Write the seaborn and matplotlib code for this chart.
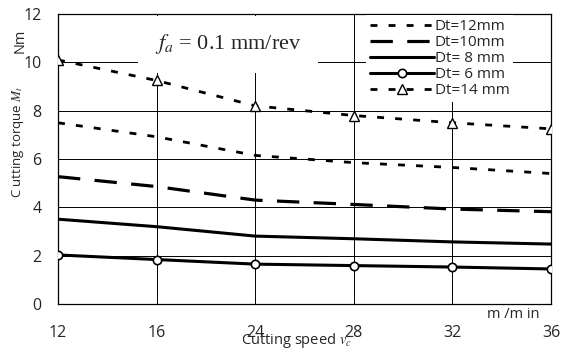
import numpy as np
import pandas as pd
import matplotlib as mpl
import matplotlib.pyplot as plt
import seaborn as sns

# cutting speed categories (m/min)
speeds = ['12', '16', '24', '28', '32', '36']

# cutting torque Mt (Nm) per drill diameter
dt12 = [7.5, 6.92, 6.15, 5.85, 5.65, 5.4]
dt10 = [5.27, 4.86, 4.3, 4.12, 3.93, 3.82]
dt8 = [3.51, 3.2, 2.81, 2.7, 2.57, 2.48]
dt6 = [2.03, 1.84, 1.65, 1.59, 1.53, 1.45]
dt14 = [10.1, 9.25, 8.2, 7.8, 7.5, 7.25]

labels = ['Dt=12mm', 'Dt=10mm', 'Dt= 8 mm', 'Dt= 6 mm', 'Dt=14 mm']

sns.set_style("white")
plt.rcParams['font.family'] = ['Open Sans', 'DejaVu Sans']
plt.rcParams['mathtext.fontset'] = 'stix'

fig, ax = plt.subplots(figsize=(5.62, 3.51), dpi=100)
fig.subplots_adjust(left=0.1032, right=0.9804, bottom=0.1339, top=0.960)

styles = [
    dict(dashes=(2.5, 4.0), lw=2.0),
    dict(dashes=(7.0, 4.5), lw=2.3),
    dict(lw=2.2),
    dict(lw=2.2, marker='o', ms=6, mfc='white', mec='black', mew=1.2),
    dict(dashes=(2.5, 4.0), lw=2.0, marker='^', ms=7, mfc='white', mec='black', mew=1.0),
]
for vals, lab, st in zip([dt12, dt10, dt8, dt6, dt14], labels, styles):
    df = pd.DataFrame({'speed': speeds, 'torque': vals})
    st = dict(st)
    dashes = st.pop('dashes', None)
    sns.lineplot(data=df, x='speed', y='torque', ax=ax, color='black',
                 label=lab, sort=False, zorder=3, **st)
    if dashes is not None:
        ax.lines[-1].set_dashes(dashes)

ax.set_xlim(0, len(speeds) - 1)
ax.set_ylim(0, 12)
ax.set_yticks(np.arange(0, 13, 2))
ax.tick_params(axis='x', length=0, pad=15, labelsize=11.5)
ax.tick_params(axis='y', length=0, pad=12, labelsize=11.5)
ax.set_xlabel('')
ax.set_ylabel('')
ax.grid(True, color='black', lw=0.7)
ax.set_axisbelow(True)
for s in ax.spines.values():
    s.set_color('black')
    s.set_linewidth(0.9)

ax.text(0.98, 10.75, r'$f_a$ = 0.1 mm/rev', family='Liberation Serif', fontsize=16,
        va='center', ha='left', zorder=2.5,
        bbox=dict(facecolor='white', edgecolor='none', pad=12))

leg = ax.legend(loc='upper left', bbox_to_anchor=(0.625, 0.995), fontsize=11,
                handlelength=4.2, handletextpad=0.05, labelspacing=0.06,
                borderaxespad=0.0, borderpad=0.25, frameon=True, fancybox=False,
                facecolor='white', edgecolor='none', framealpha=1.0)
leg.set_zorder(2.6)

fig.text(0.032, 0.595, r'C utting torque $M_t$', rotation=90, ha='center', va='center', fontsize=9.5)
fig.text(0.036, 0.885, 'Nm', rotation=90, ha='center', va='center', fontsize=10.5)
fig.text(0.527, 0.03, r'Cutting speed $v_c$', ha='center', va='center', fontsize=10.5)
fig.text(0.913, 0.105, 'm /m in', ha='center', va='center', fontsize=10.5)

plt.savefig('out.png', dpi=100)
